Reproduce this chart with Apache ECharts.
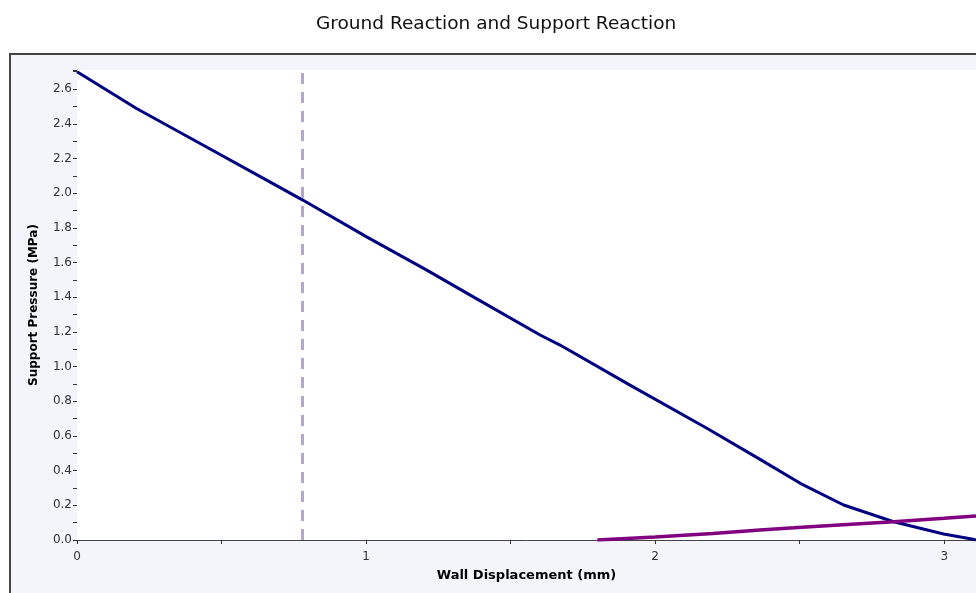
<!DOCTYPE html>
<html>
<head>
<meta charset="utf-8">
<script src="https://cdn.jsdelivr.net/npm/echarts@6/dist/echarts.min.js"></script>
<style>
html,body{margin:0;padding:0;background:#ffffff;}
#chart{width:976px;height:593px;}
</style>
</head>
<body>
<div id="chart"></div>
<script>
// Support reaction curve (Wall displacement mm, Support pressure MPa)
const supportX = [0, 0.206, 0.426, 0.656, 0.781, 1.002, 1.21, 1.371, 1.602, 1.671, 1.913, 2.179, 2.363, 2.502, 2.652, 2.825, 2.998, 3.10, 3.11];
const supportY = [2.70, 2.488, 2.286, 2.075, 1.96, 1.748, 1.556, 1.402, 1.182, 1.124, 0.893, 0.644, 0.465, 0.327, 0.202, 0.105, 0.035, 0.004, 0.0];
// Ground reaction curve
const groundX = [1.80, 2.0, 2.2, 2.363, 2.48, 2.65, 2.825, 3.0, 3.11];
const groundY = [0.0, 0.018, 0.037, 0.058, 0.07, 0.088, 0.105, 0.125, 0.138];
// Vertical reference (dashed) line position
const markerX = 0.778;

const chartTitle = 'Ground Reaction and Support Reaction';
const xName = 'Wall Displacement (mm)';
const yName = 'Support Pressure (MPa)';

const chart = echarts.init(document.getElementById('chart'), null, {renderer: 'canvas'});
const zip = (xs, ys) => xs.map((x, i) => [x, ys[i]]);

chart.setOption({
  animation: false,
  backgroundColor: '#ffffff',
  title: {
    text: chartTitle,
    left: 311,
    top: 10,
    textStyle: {fontFamily: 'DejaVu Sans', fontSize: 18.5, fontWeight: 'normal', color: '#111111'}
  },
  graphic: [{
    type: 'rect',
    z: -100,
    shape: {x: 10, y: 54, width: 1000, height: 600},
    style: {fill: '#f4f5fa', stroke: '#444444', lineWidth: 2}
  }],
  grid: {
    left: 77, right: 0, top: 70, bottom: 53,
    show: true, backgroundColor: '#ffffff', borderWidth: 0, z: 1
  },
  xAxis: {
    type: 'value',
    min: 0, max: 3.11, interval: 1,
    name: xName,
    nameLocation: 'middle',
    nameGap: 29,
    nameTextStyle: {fontFamily: 'DejaVu Sans', fontSize: 13, fontWeight: 'bold', color: '#000000'},
    axisLine: {show: true, lineStyle: {color: '#444444', width: 1}},
    axisTick: {show: true, length: 4, lineStyle: {color: '#333333'}},
    minorTick: {show: true, splitNumber: 2, length: 4, lineStyle: {color: '#333333'}},
    splitLine: {show: false},
    axisLabel: {fontFamily: 'DejaVu Sans', fontSize: 12, color: '#333333', margin: 11, showMaxLabel: false,
      formatter: v => String(Math.round(v))}
  },
  yAxis: {
    type: 'value',
    min: 0, max: 2.71, interval: 0.2,
    name: yName,
    nameLocation: 'middle',
    nameGap: 37,
    nameTextStyle: {fontFamily: 'DejaVu Sans', fontSize: 12, fontWeight: 'bold', color: '#000000'},
    axisLine: {show: true, lineStyle: {color: '#444444', width: 1}},
    axisTick: {show: true, length: 4, lineStyle: {color: '#333333'}},
    minorTick: {show: true, splitNumber: 2, length: 4, lineStyle: {color: '#333333'}},
    splitLine: {show: false},
    axisLabel: {fontFamily: 'DejaVu Sans', fontSize: 12, color: '#333333', margin: 5, showMaxLabel: false,
      formatter: v => v.toFixed(1)}
  },
  series: [
    {
      type: 'line',
      data: zip(supportX, supportY),
      showSymbol: false,
      lineStyle: {color: '#000080', width: 3},
      z: 3,
      markLine: {
        silent: true,
        symbol: ['none', 'none'],
        label: {show: false},
        lineStyle: {color: '#b3a7cb', width: 3, type: [11, 8]},
        data: [{xAxis: markerX}]
      }
    },
    {
      type: 'line',
      data: zip(groundX, groundY),
      showSymbol: false,
      lineStyle: {color: '#800080', width: 3.5},
      z: 4
    }
  ]
});
</script>
</body>
</html>
